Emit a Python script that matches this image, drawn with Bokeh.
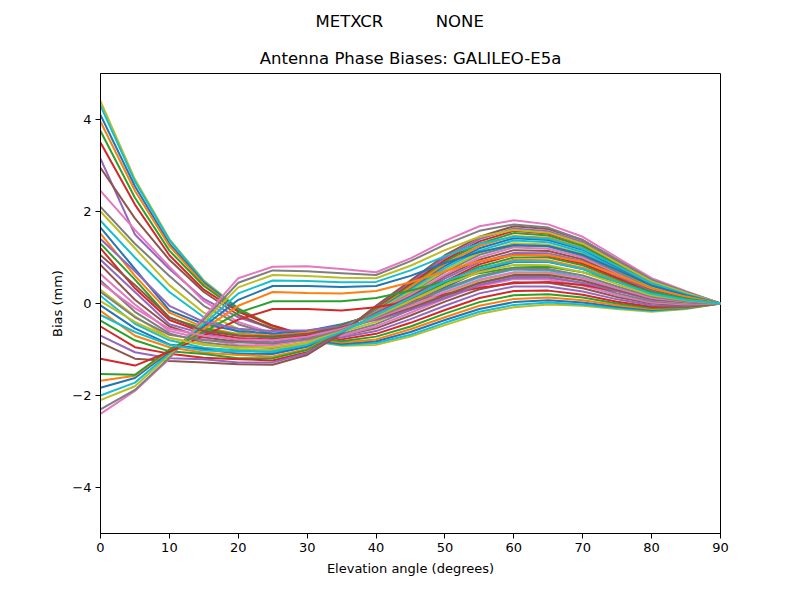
from bokeh.plotting import figure
from bokeh.models import FixedTicker, Title, Range1d
from bokeh.embed import file_html
from bokeh.resources import INLINE

# Elevation angles (degrees)
elevation = [0, 5, 10, 15, 20, 25, 30, 35, 40, 45, 50, 55, 60, 65, 70, 75, 80, 85, 90]

# Lines that start high at the horizon and fall to the bottom of the fan
descending = [
    [4.40, 2.70, 1.40, 0.50, -0.10, -0.50, -0.80, -0.92, -0.90, -0.72, -0.47, -0.23, -0.08, -0.02, -0.05, -0.12, -0.18, -0.12, 0.0],
    [4.30, 2.65, 1.38, 0.48, -0.12, -0.52, -0.80, -0.90, -0.86, -0.68, -0.42, -0.18, -0.03, 0.02, -0.02, -0.10, -0.16, -0.11, 0.0],
    [4.10, 2.55, 1.30, 0.45, -0.12, -0.50, -0.78, -0.88, -0.82, -0.62, -0.36, -0.12, 0.03, 0.07, 0.02, -0.07, -0.14, -0.10, 0.0],
    [3.95, 2.45, 1.25, 0.42, -0.15, -0.50, -0.75, -0.85, -0.78, -0.56, -0.30, -0.05, 0.10, 0.13, 0.07, -0.04, -0.12, -0.09, 0.0],
    [3.75, 2.30, 1.15, 0.38, -0.15, -0.48, -0.72, -0.82, -0.72, -0.50, -0.22, 0.03, 0.18, 0.20, 0.13, 0.00, -0.10, -0.08, 0.0],
    [3.50, 2.15, 1.05, 0.30, -0.18, -0.48, -0.70, -0.78, -0.66, -0.42, -0.14, 0.12, 0.27, 0.28, 0.19, 0.04, -0.07, -0.06, 0.0],
    [3.15, 1.50, 0.75, 0.10, -0.30, -0.55, -0.68, -0.74, -0.60, -0.34, -0.05, 0.22, 0.37, 0.37, 0.26, 0.09, -0.04, -0.05, 0.0],
    [2.95, 1.85, 0.95, 0.25, -0.25, -0.55, -0.66, -0.70, -0.54, -0.26, 0.04, 0.31, 0.46, 0.45, 0.33, 0.14, 0.00, -0.03, 0.0],
    [2.45, 1.60, 0.80, 0.05, -0.40, -0.65, -0.72, -0.70, -0.50, -0.20, 0.10, 0.38, 0.53, 0.52, 0.39, 0.18, 0.02, -0.02, 0.0],
    [2.10, 1.30, 0.60, -0.05, -0.45, -0.68, -0.70, -0.66, -0.45, -0.14, 0.16, 0.44, 0.60, 0.58, 0.44, 0.22, 0.05, 0.00, 0.0],
    [2.00, 1.20, 0.40, -0.20, -0.55, -0.72, -0.70, -0.62, -0.40, -0.08, 0.22, 0.50, 0.67, 0.65, 0.50, 0.27, 0.08, 0.01, 0.0],
    [1.80, 1.00, 0.25, -0.30, -0.62, -0.75, -0.68, -0.58, -0.34, -0.02, 0.30, 0.57, 0.74, 0.72, 0.56, 0.31, 0.11, 0.03, 0.0],
]

# Lines from the middle of the horizon values that dip near 20-25 deg and climb steeply
dipping = [
    [1.65, 0.75, -0.15, -0.45, -0.60, -0.65, -0.60, -0.45, -0.25, 0.00, 0.35, 0.70, 0.90, 0.90, 0.75, 0.47, 0.20, 0.08, 0.0],
    [1.52, 0.60, -0.20, -0.52, -0.66, -0.70, -0.63, -0.47, -0.26, 0.04, 0.40, 0.74, 0.95, 0.94, 0.78, 0.50, 0.22, 0.09, 0.0],
    [1.30, 0.52, -0.31, -0.55, -0.69, -0.75, -0.68, -0.46, -0.22, 0.07, 0.45, 0.80, 1.00, 1.00, 0.83, 0.53, 0.24, 0.10, 0.0],
    [1.20, 0.33, -0.36, -0.63, -0.75, -0.78, -0.70, -0.49, -0.20, 0.10, 0.48, 0.85, 1.06, 1.04, 0.87, 0.56, 0.26, 0.11, 0.0],
    [0.95, 0.25, -0.45, -0.66, -0.80, -0.84, -0.73, -0.50, -0.21, 0.14, 0.54, 0.90, 1.10, 1.09, 0.92, 0.60, 0.28, 0.12, 0.0],
    [0.84, 0.08, -0.50, -0.74, -0.83, -0.88, -0.78, -0.52, -0.18, 0.16, 0.59, 0.95, 1.16, 1.14, 0.96, 0.63, 0.31, 0.14, 0.0],
    [0.64, -0.02, -0.60, -0.77, -0.90, -0.91, -0.80, -0.53, -0.16, 0.20, 0.62, 1.00, 1.22, 1.19, 1.00, 0.66, 0.33, 0.15, 0.0],
    [0.50, -0.18, -0.65, -0.85, -0.93, -0.97, -0.85, -0.54, -0.15, 0.24, 0.68, 1.06, 1.26, 1.24, 1.04, 0.69, 0.35, 0.16, 0.0],
    [0.30, -0.28, -0.75, -0.88, -0.99, -1.01, -0.87, -0.57, -0.14, 0.26, 0.72, 1.10, 1.31, 1.28, 1.08, 0.73, 0.37, 0.17, 0.0],
    [0.17, -0.44, -0.80, -0.96, -1.02, -1.06, -0.92, -0.56, -0.12, 0.30, 0.77, 1.15, 1.37, 1.33, 1.12, 0.76, 0.39, 0.18, 0.0],
    [-0.04, -0.54, -0.89, -0.99, -1.09, -1.10, -0.94, -0.60, -0.12, 0.34, 0.82, 1.20, 1.42, 1.38, 1.17, 0.79, 0.41, 0.19, 0.0],
    [-0.16, -0.70, -0.95, -1.07, -1.12, -1.15, -0.99, -0.60, -0.10, 0.36, 0.86, 1.25, 1.47, 1.43, 1.21, 0.82, 0.43, 0.20, 0.0],
    [-0.37, -0.80, -1.04, -1.10, -1.19, -1.19, -1.01, -0.62, -0.09, 0.41, 0.91, 1.30, 1.53, 1.48, 1.25, 0.85, 0.46, 0.22, 0.0],
    [-0.50, -0.95, -1.09, -1.18, -1.21, -1.24, -1.06, -0.63, -0.07, 0.43, 0.95, 1.35, 1.58, 1.52, 1.29, 0.89, 0.48, 0.23, 0.0],
    [-0.70, -1.06, -1.19, -1.21, -1.28, -1.28, -1.08, -0.64, -0.06, 0.47, 1.00, 1.40, 1.63, 1.57, 1.33, 0.92, 0.50, 0.24, 0.0],
    [-0.85, -1.20, -1.25, -1.28, -1.32, -1.33, -1.12, -0.65, -0.05, 0.50, 1.05, 1.45, 1.68, 1.62, 1.38, 0.95, 0.52, 0.25, 0.0],
]

# Lines that start lowest, rise into the flat shelf at 25-40 deg and top the fan at 60 deg
rising = [
    [-2.40, -1.90, -1.20, -0.30, 0.55, 0.80, 0.81, 0.75, 0.68, 0.98, 1.36, 1.68, 1.81, 1.72, 1.45, 1.00, 0.55, 0.27, 0.0],
    [-2.30, -1.88, -1.18, -0.35, 0.45, 0.72, 0.70, 0.66, 0.62, 0.92, 1.28, 1.58, 1.72, 1.65, 1.38, 0.95, 0.52, 0.25, 0.0],
    [-2.10, -1.80, -1.12, -0.40, 0.35, 0.62, 0.60, 0.56, 0.55, 0.82, 1.16, 1.45, 1.60, 1.54, 1.30, 0.89, 0.48, 0.23, 0.0],
    [-2.00, -1.72, -1.08, -0.45, 0.22, 0.50, 0.49, 0.46, 0.47, 0.72, 1.03, 1.30, 1.45, 1.41, 1.19, 0.82, 0.44, 0.20, 0.0],
    [-1.83, -1.62, -1.05, -0.50, 0.08, 0.38, 0.38, 0.36, 0.38, 0.60, 0.88, 1.12, 1.27, 1.25, 1.06, 0.73, 0.39, 0.18, 0.0],
    [-1.68, -1.57, -1.02, -0.55, -0.05, 0.25, 0.23, 0.22, 0.27, 0.46, 0.70, 0.92, 1.05, 1.05, 0.90, 0.62, 0.33, 0.15, 0.0],
    [-1.53, -1.55, -1.00, -0.62, -0.20, 0.05, 0.05, 0.05, 0.12, 0.28, 0.48, 0.66, 0.78, 0.80, 0.68, 0.47, 0.25, 0.11, 0.0],
    [-1.20, -1.35, -1.05, -0.70, -0.35, -0.12, -0.12, -0.15, -0.08, 0.05, 0.20, 0.34, 0.44, 0.47, 0.40, 0.27, 0.13, 0.06, 0.0],
]

# Lines from the middle of the horizon values with a shallow dip that end mid-fan
shallow = [
    [1.40, 0.70, -0.05, -0.40, -0.55, -0.60, -0.58, -0.50, -0.36, -0.14, 0.12, 0.40, 0.56, 0.56, 0.45, 0.27, 0.08, 0.02, 0.0],
    [1.05, 0.40, -0.30, -0.60, -0.70, -0.72, -0.66, -0.52, -0.33, -0.10, 0.18, 0.45, 0.62, 0.62, 0.50, 0.30, 0.10, 0.03, 0.0],
    [0.45, -0.10, -0.55, -0.70, -0.78, -0.80, -0.72, -0.55, -0.32, -0.05, 0.25, 0.52, 0.68, 0.68, 0.55, 0.33, 0.12, 0.04, 0.0],
    [0.25, -0.30, -0.68, -0.80, -0.85, -0.86, -0.78, -0.58, -0.30, 0.00, 0.32, 0.60, 0.76, 0.75, 0.61, 0.37, 0.15, 0.05, 0.0],
    [0.05, -0.40, -0.75, -0.90, -0.95, -0.95, -0.84, -0.60, -0.28, 0.06, 0.40, 0.68, 0.84, 0.83, 0.68, 0.42, 0.18, 0.07, 0.0],
    [-0.25, -0.62, -0.90, -1.02, -1.05, -1.04, -0.90, -0.62, -0.25, 0.12, 0.48, 0.76, 0.92, 0.91, 0.75, 0.47, 0.21, 0.08, 0.0],
]

x_ticks = [0, 10, 20, 30, 40, 50, 60, 70, 80, 90]
y_ticks = [-4, -2, 0, 2, 4]
y_tick_labels = ["\u22124", "\u22122", "0", "2", "4"]

suptitle = "METXCR" + "\u00a0" * 10 + "NONE"
title = "Antenna Phase Biases: GALILEO-E5a"

palette = ["#1f77b4", "#ff7f0e", "#2ca02c", "#d62728", "#9467bd",
           "#8c564b", "#e377c2", "#7f7f7f", "#bcbd22", "#17becf"]

W, H = 784, 584
p = figure(width=W, height=H, output_backend="svg", toolbar_location=None,
           x_range=Range1d(0, 90), y_range=Range1d(-5, 5),
           min_border_left=100, min_border_right=64, min_border_top=72, min_border_bottom=51)

p.title = Title(text=suptitle, align="left", offset=215,
                text_font="DejaVu Sans", text_font_size="16.5px", text_font_style="normal",
                text_color="black", standoff=19)
p.add_layout(Title(text=title, align="center",
                   text_font="DejaVu Sans", text_font_size="16.5px", text_font_style="normal",
                   text_color="black", standoff=12), "above")

all_lines = descending + dipping + rising + shallow
for i, ys in enumerate(all_lines):
    p.line(elevation, ys, line_color=palette[(i + 8) % 10], line_width=2)

p.xgrid.visible = False
p.ygrid.visible = False
p.outline_line_color = "black"
p.outline_line_width = 1
p.outline_line_alpha = 1

p.xaxis.ticker = FixedTicker(ticks=x_ticks)
p.yaxis.ticker = FixedTicker(ticks=y_ticks)
p.yaxis.major_label_overrides = {t: l for t, l in zip(y_ticks, y_tick_labels)}
p.xaxis.axis_label = "Elevation angle (degrees)"
p.yaxis.axis_label = "Bias (mm)"
for ax in (p.xaxis[0], p.yaxis[0]):
    ax.axis_label_text_font = "DejaVu Sans"
    ax.axis_label_text_font_size = "13px"
    ax.axis_label_text_font_style = "normal"
    ax.axis_label_text_color = "black"
    ax.major_label_text_font = "DejaVu Sans"
    ax.major_label_text_font_size = "13px"
    ax.major_label_text_color = "black"
    ax.major_tick_in = 0
    ax.major_tick_out = 5
    ax.minor_tick_in = 0
    ax.minor_tick_out = 0
    ax.axis_line_color = "black"
    ax.major_tick_line_color = "black"
    ax.major_label_standoff = 4
p.xaxis.axis_label_standoff = 6
p.yaxis.axis_label_standoff = 4
p.background_fill_color = "white"
p.border_fill_color = "white"

open("out.html", "w").write(file_html(p, INLINE))
